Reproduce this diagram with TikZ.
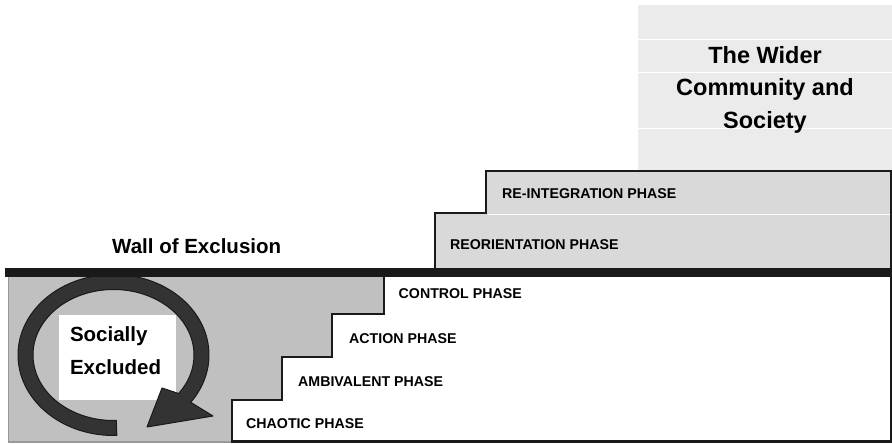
\documentclass[tikz,border=0pt]{standalone}
\usepackage{fontspec}
\setmainfont{Liberation Sans}
\usetikzlibrary{positioning}
\definecolor{exclgray}{HTML}{C0C0C0}
\definecolor{phasegray}{HTML}{D9D9D9}
\definecolor{widergray}{HTML}{EBEBEB}
\definecolor{ringgray}{HTML}{333333}
\definecolor{ink}{HTML}{1A1A1A}
\begin{document}
\begin{tikzpicture}[x=1pt,y=-1pt,
  phase/.style={anchor=base west,inner sep=0pt,font=\bfseries\fontsize{14.2}{17}\selectfont},
  bigtext/.style={inner sep=0pt,font=\bfseries\fontsize{20.5}{33}\selectfont},
  edge/.style={draw=ink,line width=2.5pt}]
\useasboundingbox (0,0) rectangle (892,444);
\fill[widergray] (638,5) rectangle (892,171);
\foreach \y in {39,72,128} \draw[white,line width=0.8pt] (638,\y) -- (892,\y);
\filldraw[fill=phasegray,edge] (435,272) -- (435,213) -- (486,213) -- (486,171) -- (891,171) -- (891,272);
\draw[white,line width=0.8pt] (487.5,214.5) -- (889.5,214.5);
\fill[exclgray] (8,277) -- (384,277) -- (384,314) -- (332,314) -- (332,357) -- (282,357) -- (282,400) -- (232,400) -- (232,442) -- (8,442) -- cycle;
\draw[black!40,line width=1.2pt] (8.6,277) -- (8.6,442) -- (232,442);
\node[fill=white,minimum width=117pt,minimum height=85pt,inner sep=0pt] (exclbox) at (117.5,357.5) {};
\node[bigtext,align=left,anchor=north west,below right=11.5pt and 11pt of exclbox.north west] (excl) {Socially\\Excluded};
\coordinate (c) at (113.5,355);
\filldraw[fill=ringgray,draw=ink,line width=1pt,line join=round]
  ([shift={(88:95.5 and 80.5)}]c) arc[start angle=88,end angle=396,x radius=95.5,y radius=80.5]
  -- (213,416) -- (147,427) -- (162,388)
  -- ([shift={(396:80.5 and 65.5)}]c) arc[start angle=396,end angle=88,x radius=80.5,y radius=65.5] -- cycle;
\draw[edge] (384,277) -- (384,314) -- (332,314) -- (332,357) -- (282,357) -- (282,400) -- (232,400) -- (232,441.5) -- (890.8,441.5) -- (890.8,272);
\draw[ink,line width=8.5pt] (5,272.5) -- (892,272.5);
\node[bigtext,anchor=base west] (wall) at (112,253) {Wall of Exclusion};
\node[align=center,anchor=north,inner sep=0pt,font=\bfseries\fontsize{23.5}{32.5}\selectfont] (wider) at (765,46) {The Wider\\Community and\\Society};
\node[phase] (reint) at (502,198) {RE-INTEGRATION PHASE};
\node[phase] (reor) at (450,249.5) {REORIENTATION PHASE};
\node[phase] (ctrl) at (398.5,298) {CONTROL PHASE};
\node[phase] (act) at (349,343) {ACTION PHASE};
\node[phase] (amb) at (298,386) {AMBIVALENT PHASE};
\node[phase] (chao) at (246,428) {CHAOTIC PHASE};
\end{tikzpicture}
\end{document}
